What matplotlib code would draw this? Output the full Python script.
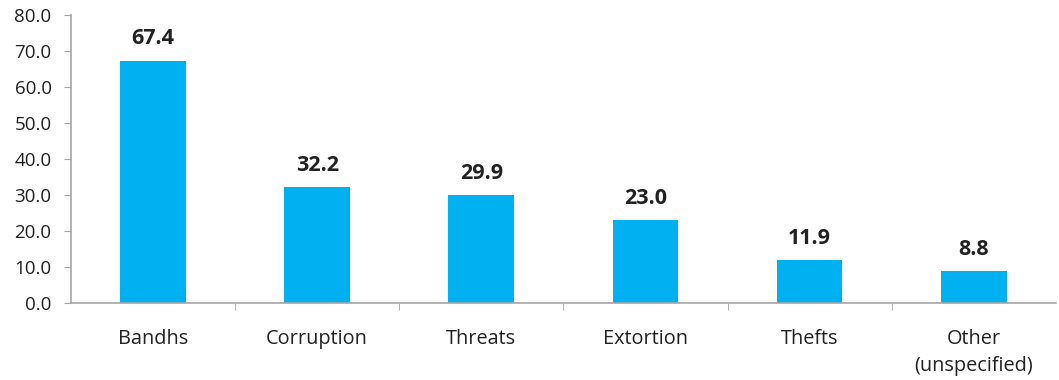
import matplotlib.pyplot as plt
import numpy as np

categories = ['Bandhs', 'Corruption', 'Threats', 'Extortion', 'Thefts', 'Other\n(unspecified)']
values = [67.4, 32.2, 29.9, 23.0, 11.9, 8.8]

plt.rcParams['font.family'] = ['Open Sans', 'DejaVu Sans']

fig = plt.figure(figsize=(10.59, 3.8), dpi=100)
ax = fig.add_axes([0.067, 0.203, 0.93, 0.757])

x = np.arange(len(categories))
ax.bar(x, values, width=0.4, color='#00B0F0')

# value labels above each bar
for xi, v in zip(x, values):
    ax.text(xi, v + 3.2, f'{v:.1f}', ha='center', va='bottom',
            fontsize=15.5, fontweight='bold', color='#222222')

ax.set_xlim(-0.5, len(categories) - 0.5)
ax.set_ylim(0, 80)
ax.set_yticks(np.arange(0, 81, 10))
ax.set_yticklabels([f'{t:.1f}' for t in np.arange(0, 81, 10)])
ax.set_xticks(x)
ax.set_xticklabels(categories, linespacing=1.45)
# small ticks between categories
ax.set_xticks(np.arange(0.5, len(categories) - 1, 1), minor=True)

ax.tick_params(axis='x', which='major', length=0, pad=19, labelsize=14.3, labelcolor='#222222')
ax.tick_params(axis='x', which='minor', length=5, color='#A6A6A6')
ax.tick_params(axis='y', length=5, color='#A6A6A6', labelsize=13.5, labelcolor='#222222', pad=9)

for s in ['top', 'right']:
    ax.spines[s].set_visible(False)
for s in ['left', 'bottom']:
    ax.spines[s].set_color('#A6A6A6')
    ax.spines[s].set_linewidth(1.2)

fig.savefig('out.png', dpi=100)
